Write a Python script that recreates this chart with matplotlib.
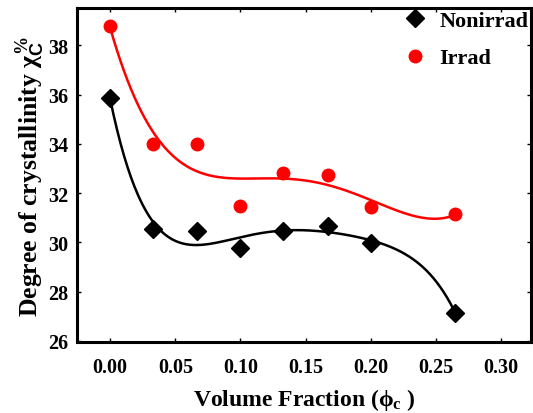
import numpy as np
import matplotlib
matplotlib.use("Agg")
import matplotlib.pyplot as plt

plt.rcParams['font.family'] = 'Liberation Serif'
plt.rcParams['font.weight'] = 'bold'
plt.rcParams['mathtext.fontset'] = 'custom'
plt.rcParams['mathtext.rm'] = 'Liberation Serif:bold'
plt.rcParams['mathtext.it'] = 'Liberation Serif:bold'
plt.rcParams['mathtext.sf'] = 'Liberation Sans:bold'

# fraction volumique et cristallinite
phi = [0.0, 0.033, 0.067, 0.100, 0.133, 0.167, 0.200, 0.265]
nonirrad = [35.86, 30.54, 30.44, 29.77, 30.45, 30.66, 29.96, 27.14]
irrad = [38.78, 34.00, 33.97, 31.48, 32.81, 32.74, 31.45, 31.14]
xticks = [0.00, 0.05, 0.10, 0.15, 0.20, 0.25, 0.30]
yticks = [26, 28, 30, 32, 34, 36, 38]

fig = plt.figure(figsize=(5.33, 4.14), dpi=100)
ax = fig.add_axes([0.1445, 0.1715, 0.8515, 0.806])

# courbes lissees (ajustement polynomial)
xx = np.linspace(min(phi), max(phi), 300)
c1 = np.polyfit(phi, nonirrad, 5)
c2 = np.polyfit(phi, irrad, 4)
ax.plot(xx, np.polyval(c1, xx), color='black', lw=1.8)
ax.plot(xx, np.polyval(c2, xx), color='red', lw=1.8)

ax.plot(phi, nonirrad, 'D', color='black', ms=9, label='Nonirrad')
ax.plot(phi, irrad, 'o', color='red', ms=9, label='Irrad')

ax.set_xlim(-0.0255, 0.323)
ax.set_ylim(25.95, 39.5)
ax.set_xticks(xticks)
ax.set_xticklabels(['%.2f' % t for t in xticks])
ax.set_yticks(yticks)
ax.tick_params(direction='in', top=True, right=True, length=3, width=1,
               labelsize=14.5)
ax.tick_params(axis='x', pad=11)
ax.tick_params(axis='y', pad=6)
for s in ax.spines.values():
    s.set_linewidth(2.2)

ax.set_xlabel(r'Volume Fraction ($\phi_c$ )', fontsize=17, fontweight='bold', labelpad=6)
ax.set_ylabel(r'Degree of crystallinity $\chi_{\mathsf{C}}^{\%}$', fontsize=18.5, fontweight='bold', labelpad=1)

leg = ax.legend(loc='upper right', frameon=False, fontsize=16, labelspacing=0.75,
                handlelength=1.4, handletextpad=0.4, borderaxespad=0.0, borderpad=0.1)

fig.savefig('out.png', dpi=100)
